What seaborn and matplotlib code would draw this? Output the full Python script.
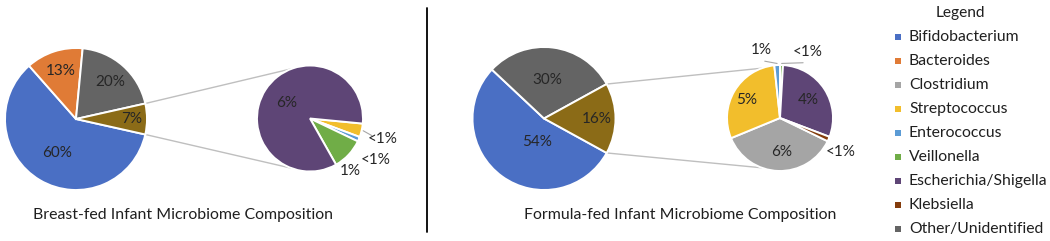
import matplotlib
matplotlib.use("Agg")
import matplotlib.pyplot as plt
import seaborn as sns
import numpy as np

# ---------------- data ----------------
categories = ["Bifidobacterium", "Bacteroides", "Clostridium", "Streptococcus",
              "Enterococcus", "Veillonella", "Escherichia/Shigella", "Klebsiella",
              "Other/Unidentified"]
cat_colors = ["#4A6FC4", "#E07B36", "#A5A5A5", "#F2BE2C", "#5B9BD5",
              "#70AD47", "#5E4576", "#843C0C", "#646464"]
group_color = "#8B6B17"

bf_title = "Breast-fed Infant Microbiome Composition"
bf_main_cats = ["Bifidobacterium", "Bacteroides", "Other/Unidentified"]
bf_main_vals = [60, 13, 20]
bf_main_labels = ["60%", "13%", "20%"]
bf_sub_cats = ["Streptococcus", "Enterococcus", "Veillonella", "Escherichia/Shigella"]
bf_sub_vals = [0.29, 0.10, 0.68, 5.93]
bf_sub_labels = ["<1%", "<1%", "1%", "6%"]
bf_group_label = "7%"

ff_title = "Formula-fed Infant Microbiome Composition"
ff_main_cats = ["Bifidobacterium", "Other/Unidentified"]
ff_main_vals = [54, 30]
ff_main_labels = ["54%", "30%"]
ff_sub_cats = ["Clostridium", "Streptococcus", "Enterococcus", "Veillonella",
               "Escherichia/Shigella", "Klebsiella"]
ff_sub_vals = [5.85, 4.72, 0.28, 0.14, 4.78, 0.23]
ff_sub_labels = ["6%", "5%", "1%", "<1%", "4%", "<1%"]
ff_group_label = "16%"

# ---------------- style ----------------
sns.set_theme(style="white")
plt.rcParams["font.family"] = ["Lato", "DejaVu Sans"]
color_of = dict(zip(categories, cat_colors))
TXT = "#1F1F1F"
LBL = "#262626"
W, H = 1050, 241


def Y(y):
    return H - y


fig = plt.figure(figsize=(W / 100, H / 100), dpi=100)
ax = fig.add_axes([0, 0, 1, 1])


def place_labels(wedges, labels, center, r, pos, leaders=None):
    for i, (w, lab) in enumerate(zip(wedges, labels)):
        d, nudge = pos[i]
        mid = (w.theta1 + w.theta2) / 2.0
        ang = np.deg2rad(mid + nudge)
        tx = center[0] + d * r * np.cos(ang)
        ty = center[1] + d * r * np.sin(ang)
        ax.text(tx, ty, lab, ha="center", va="center", fontsize=11, color=LBL)
        if leaders and leaders[i]:
            m = np.deg2rad(mid)
            x0 = center[0] + 1.03 * r * np.cos(m)
            y0 = center[1] + 1.03 * r * np.sin(m)
            x1 = center[0] + (d - 0.22) * r * np.cos(ang)
            y1 = center[1] + (d - 0.22) * r * np.sin(ang)
            ax.plot([x0, x1], [y0, y1], color="#A6A6A6", lw=0.8)


def pie_of_pie(main_cats, main_vals, main_labels, sub_cats, sub_vals, sub_labels,
               group_label, mc, mr, sc, sr, sub_start, main_pos, sub_pos, leaders):
    group_val = sum(sub_vals)
    vals = list(main_vals) + [group_val]
    total = sum(vals)
    cols = [color_of[c] for c in main_cats] + [group_color]
    mcen = (mc[0], Y(mc[1]))
    scen = (sc[0], Y(sc[1]))
    wp = dict(edgecolor="white", linewidth=1.4)
    wm, _ = ax.pie(vals, colors=cols, startangle=-group_val / total * 180,
                   counterclock=False, center=mcen, radius=mr, wedgeprops=wp)
    ws, _ = ax.pie(sub_vals, colors=[color_of[c] for c in sub_cats],
                   startangle=sub_start, counterclock=False, center=scen,
                   radius=sr, wedgeprops=wp)
    place_labels(wm, list(main_labels) + [group_label], mcen, mr, main_pos)
    place_labels(ws, sub_labels, scen, sr, sub_pos, leaders)
    g = wm[-1]
    for th, sa in ((g.theta2, 110), (g.theta1, -110)):
        p0 = (mcen[0] + mr * np.cos(np.deg2rad(th)), mcen[1] + mr * np.sin(np.deg2rad(th)))
        p1 = (scen[0] + sr * np.cos(np.deg2rad(sa)), scen[1] + sr * np.sin(np.deg2rad(sa)))
        ax.plot([p0[0], p1[0]], [p0[1], p1[1]], color="#BFBFBF", lw=1.0, zorder=0)


pie_of_pie(bf_main_cats, bf_main_vals, bf_main_labels, bf_sub_cats, bf_sub_vals,
           bf_sub_labels, bf_group_label,
           mc=(76, 119), mr=71, sc=(310, 118.5), sr=53, sub_start=-5.5,
           main_pos=[(0.55, 1.6), (0.71, 0), (0.71, -1), (0.79, 0)],
           sub_pos=[(1.43, -2.5), (1.47, -9), (1.25, -9.4), (0.52, 0)],
           leaders=[True, False, False, False])

pie_of_pie(ff_main_cats, ff_main_vals, ff_main_labels, ff_sub_cats, ff_sub_vals,
           ff_sub_labels, ff_group_label,
           mc=(544, 118.5), mr=71.5, sc=(780, 118), sr=53, sub_start=-26,
           main_pos=[(0.34, 19.4), (0.54, 2.7), (0.74, 0)],
           sub_pos=[(0.64, 5), (0.71, 2), (1.33, 12), (1.35, -21), (0.63, 0), (1.32, -6)],
           leaders=[False, False, True, True, False, False])

# titles
ax.text(183, Y(215), bf_title, ha="center", va="center", fontsize=11.4, color=TXT)
ax.text(680, Y(215), ff_title, ha="center", va="center", fontsize=11.4, color=TXT)

# divider
ax.plot([427, 427], [Y(8), Y(232)], color="black", lw=1.3)

# legend
ax.text(960, Y(13), "Legend", ha="center", va="center", fontsize=11.2, color=TXT)
for i, (c, col) in enumerate(zip(categories, cat_colors)):
    yy = Y(37 + 24 * i)
    ax.scatter([898], [yy], marker="s", s=22, color=col, linewidths=0)
    ax.text(909, yy, c, ha="left", va="center", fontsize=11.3, color=TXT)

ax.set_xlim(0, W)
ax.set_ylim(0, H)
ax.set_aspect("equal", adjustable="box")
ax.axis("off")
fig.savefig("out.png", dpi=100, facecolor="white")
